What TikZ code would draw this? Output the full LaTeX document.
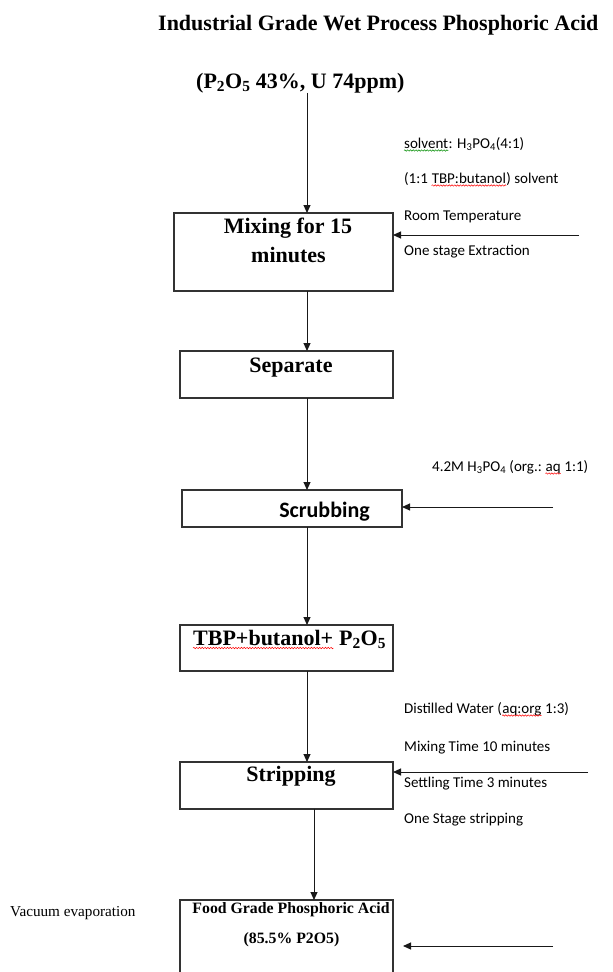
\documentclass[tikz,border=0pt]{standalone}
\usepackage{fontspec}
\setmainfont{Liberation Serif}
\newfontfamily\sidefont{Carlito}
\usetikzlibrary{arrows.meta,decorations.pathmorphing}

\tikzstyle{stage} = [draw=black!80, line width=1.1pt, inner sep=0pt, outer sep=0pt]
\tikzstyle{stagetext} = [inner sep=0pt, font=\fontsize{22}{26}\selectfont\bfseries]
\tikzstyle{note} = [inner sep=0pt, anchor=base west, font=\sidefont\fontsize{15}{18}\selectfont]
\tikzstyle{flow} = [-{Triangle[length=8pt,width=7pt]}, line width=1pt, black!90]
\tikzstyle{squiggle} = [decorate, decoration={snake, amplitude=0.7pt, segment length=2.8pt}, line width=0.5pt]
\def\wavedrop{2.5pt}

\begin{document}
\begin{tikzpicture}[x=1pt,y=-1pt]
	\useasboundingbox (0,0) rectangle (613,972);
	\clip (0,0) rectangle (613,972);

	% Define the nodes in the picture
	\node (title) [stagetext, anchor=base west] at (158,30) {Industrial Grade Wet Process Phosphoric Acid};
	\node (feed) [stagetext, anchor=base west] at (196,88) {(P\textsubscript{2}O\textsubscript{5} 43\%, U 74ppm)};

	\node (mix_box) [stage, minimum width=219pt, minimum height=78pt] at (283.5,252) {};
	\node (mix_txt_a) [stagetext, anchor=base] at (288,233) {Mixing for 15};
	\node (mix_txt_b) [stagetext, anchor=base] at (288.5,262) {minutes};

	\node (sep_box) [stage, minimum width=213pt, minimum height=47pt] at (286.5,374.5) {};
	\node (sep_txt) [stagetext, anchor=base] at (291,372) {Separate};

	\node (scrub_box) [stage, minimum width=220pt, minimum height=37pt] at (292,508.5) {};
	\node (scrub_txt) [stagetext, font=\sidefont\fontsize{22}{26}\selectfont\bfseries, anchor=base] at (324.5,517) {Scrubbing};

	\node (tbp_box) [stage, minimum width=213pt, minimum height=46pt] at (286.5,648) {};
	\node (tbp_txt_a) [stagetext, anchor=base west] at (193,645) {TBP+butanol+};
	\node (tbp_txt_b) [stagetext, anchor=base west] at (tbp_txt_a.base east) {\ P\textsubscript{2}O\textsubscript{5}};

	\node (strip_box) [stage, minimum width=213pt, minimum height=47pt] at (286.5,785.5) {};
	\node (strip_txt) [stagetext, anchor=base] at (291,781) {Stripping};

	\node (food_box) [stage, minimum width=213pt, minimum height=120pt] at (286.5,960) {};
	\node (food_txt_a) [stagetext, font=\fontsize{15.8}{19}\selectfont\bfseries, anchor=base] at (291,913) {Food Grade Phosphoric Acid};
	\node (food_txt_b) [stagetext, font=\fontsize{15.8}{19}\selectfont\bfseries, anchor=base] at (291.5,943) {(85.5\% P2O5)};
	\node (vacuum) [inner sep=0pt, anchor=base west, font=\fontsize{15.2}{18}\selectfont] at (10,916) {Vacuum evaporation};

	% side conditions
	\node (mix_note_a) [note] at (404,148) {solvent};
	\node (mix_note_b) [note] at (mix_note_a.base east) {: H\textsubscript{3}PO\textsubscript{4}(4:1)};
	\node (mix_note_c) [note] at (404,183) {(1:1\ \mbox{}};
	\node (mix_note_d) [note] at (mix_note_c.base east) {TBP:butanol};
	\node (mix_note_e) [note] at (mix_note_d.base east) {) solvent};
	\node (mix_note_f) [note] at (404,220) {Room Temperature};
	\node (mix_note_g) [note] at (404,255) {One stage Extraction};

	\node (scrub_note_a) [note] at (432,471) {4.2M H\textsubscript{3}PO\textsubscript{4} (org.:\ \mbox{}};
	\node (scrub_note_b) [note] at (scrub_note_a.base east) {aq};
	\node (scrub_note_c) [note] at (scrub_note_b.base east) {\ 1:1)};

	\node (strip_note_a) [note] at (404,713) {Distilled Water (};
	\node (strip_note_b) [note] at (strip_note_a.base east) {aq:org};
	\node (strip_note_c) [note] at (strip_note_b.base east) {\ 1:3)};
	\node (strip_note_d) [note] at (404,751) {Mixing Time 10 minutes};
	\node (strip_note_e) [note] at (404,787) {Settling Time 3 minutes};
	\node (strip_note_f) [note] at (404,823) {One Stage stripping};

	\coordinate (axis) at (307,0);
	\coordinate (axis_low) at (314,0);
	\coordinate (mix_feed) at (579,235);
	\coordinate (scrub_feed) at (553,507);
	\coordinate (strip_feed) at (588,772);
	\coordinate (food_feed) at (553,946);

	% Define the edges in the picture
	\draw [flow] (feed.south -| axis) -- (mix_box.north -| axis);
	\draw [flow] (mix_box.south -| axis) -- (sep_box.north -| axis);
	\draw [flow] (sep_box.south -| axis) -- (scrub_box.north -| axis);
	\draw [flow] (scrub_box.south -| axis) -- (tbp_box.north -| axis);
	\draw [flow] (tbp_box.south -| axis) -- (strip_box.north -| axis);
	\draw [flow] (strip_box.south -| axis_low) -- (food_box.north -| axis_low);

	\draw [flow] (mix_feed) -- (mix_feed -| mix_box.east);
	\draw [flow] (scrub_feed) -- (scrub_feed -| scrub_box.east);
	\draw [flow] (strip_feed) -- (strip_feed -| strip_box.east);
	\draw [flow, shorten >=10pt] (food_feed) -- (food_feed -| food_box.east);

	% spelling marks
	\draw [squiggle, green!55!black] ([yshift=-\wavedrop]mix_note_a.base west) -- ([yshift=-\wavedrop]mix_note_a.base east);
	\draw [squiggle, red] ([yshift=-\wavedrop]mix_note_d.base west) -- ([yshift=-\wavedrop]mix_note_d.base east);
	\draw [squiggle, red] ([yshift=-\wavedrop]scrub_note_b.base west) -- ([yshift=-\wavedrop]scrub_note_b.base east);
	\draw [squiggle, red] ([yshift=-\wavedrop]strip_note_b.base west) -- ([yshift=-\wavedrop]strip_note_b.base east);
	\draw [squiggle, red] ([yshift=-3pt]tbp_txt_a.base west) -- ([yshift=-3pt]tbp_txt_a.base east);
\end{tikzpicture}
\end{document}
